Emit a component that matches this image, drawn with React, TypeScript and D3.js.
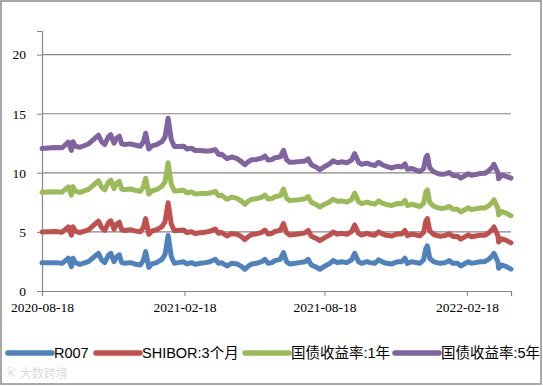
import { useEffect, useRef } from "react";
import * as d3 from "d3";

// days after 2020-08-18 for each sample
const dayOffsets = [
  0, 17, 26, 34, 38, 40, 43, 49, 60, 68,
  73, 77, 81, 86, 89, 93, 97, 100, 103, 107,
  114, 120, 127, 131, 134, 138, 142, 148, 155, 159,
  163, 167, 171, 176, 183, 187, 193, 198, 204, 211,
  217, 224, 228, 232, 239, 245, 252, 258, 262, 267,
  271, 277, 284, 288, 292, 297, 301, 308, 312, 316,
  320, 327, 333, 340, 344, 348, 355, 359, 366, 372,
  376, 382, 387, 394, 400, 404, 409, 413, 420, 424,
  430, 435, 439, 445, 452, 456, 460, 465, 469, 472,
  478, 484, 488, 493, 496, 498, 501, 506, 510, 515,
  521, 526, 531, 537, 541, 547, 551, 555, 560, 566,
  572, 577, 582, 584, 589, 590, 594, 600, 606,
];

const r007 = [
  2.4, 2.4, 2.34, 2.77, 2.06, 2.77, 2.4, 2.26, 2.48, 2.92,
  3.19, 2.63, 2.4, 3.05, 3.19, 2.48, 2.92, 3.05, 2.4, 2.34,
  2.4, 2.29, 2.2, 2.6, 3.33, 2.0, 2.29, 2.4, 2.68, 3.1,
  4.7, 2.92, 2.34, 2.4, 2.48, 2.29, 2.4, 2.26, 2.34, 2.4,
  2.48, 2.68, 2.34, 2.4, 2.12, 2.34, 2.29, 2.06, 1.84, 2.12,
  2.29, 2.34, 2.48, 2.68, 2.34, 2.4, 2.57, 2.68, 3.25, 2.48,
  2.29, 2.34, 2.4, 2.48, 2.68, 2.2, 2.0, 1.84, 2.12, 2.34,
  2.57, 2.4, 2.48, 2.4, 2.63, 3.19, 2.48, 2.34, 2.48, 2.4,
  2.34, 2.63, 2.48, 2.34, 2.29, 2.4, 2.48, 2.48, 2.77, 2.34,
  2.48, 2.4, 2.34, 2.63, 3.61, 3.81, 2.77, 2.48, 2.4, 2.34,
  2.4, 2.57, 2.34, 2.34, 2.12, 2.34, 2.48, 2.34, 2.4, 2.48,
  2.48, 2.68, 2.97, 3.19, 2.48, 1.92, 2.2, 2.06, 1.85,
];

const shibor3m = [
  2.6, 2.63, 2.64, 2.66, 2.66, 2.67, 2.67, 2.68, 2.7, 2.71,
  2.72, 2.73, 2.73, 2.74, 2.75, 2.75, 2.76, 2.77, 2.77, 2.78,
  2.79, 2.8, 2.8, 2.79, 2.79, 2.79, 2.78, 2.78, 2.77, 2.76,
  2.76, 2.75, 2.75, 2.72, 2.68, 2.66, 2.62, 2.6, 2.59, 2.58,
  2.57, 2.56, 2.55, 2.55, 2.54, 2.53, 2.52, 2.51, 2.5, 2.5,
  2.49, 2.49, 2.48, 2.48, 2.48, 2.47, 2.47, 2.46, 2.46, 2.45,
  2.45, 2.45, 2.44, 2.44, 2.44, 2.43, 2.43, 2.42, 2.42, 2.41,
  2.41, 2.41, 2.4, 2.4, 2.4, 2.4, 2.4, 2.39, 2.39, 2.38,
  2.38, 2.38, 2.37, 2.37, 2.36, 2.36, 2.36, 2.35, 2.35, 2.35,
  2.34, 2.33, 2.33, 2.32, 2.32, 2.31, 2.31, 2.3, 2.3, 2.29,
  2.29, 2.28, 2.28, 2.27, 2.27, 2.26, 2.26, 2.25, 2.25, 2.24,
  2.24, 2.23, 2.23, 2.23, 2.22, 2.22, 2.22, 2.22, 2.22,
];

const bond1y = [
  3.35, 3.37, 3.38, 3.38, 3.39, 3.39, 3.39, 3.4, 3.41, 3.42,
  3.42, 3.43, 3.43, 3.44, 3.44, 3.44, 3.45, 3.45, 3.45, 3.45,
  3.44, 3.44, 3.43, 3.42, 3.42, 3.41, 3.41, 3.4, 3.4, 3.39,
  3.39, 3.38, 3.38, 3.37, 3.37, 3.36, 3.36, 3.35, 3.31, 3.27,
  3.24, 3.2, 3.17, 3.15, 3.11, 3.07, 3.03, 3.01, 3.0, 3.0,
  2.99, 2.98, 2.97, 2.96, 2.96, 2.95, 2.94, 2.93, 2.92, 2.92,
  2.91, 2.9, 2.89, 2.88, 2.87, 2.87, 2.86, 2.85, 2.83, 2.81,
  2.79, 2.77, 2.75, 2.72, 2.7, 2.69, 2.68, 2.67, 2.65, 2.65,
  2.63, 2.62, 2.61, 2.6, 2.58, 2.58, 2.57, 2.56, 2.55, 2.54,
  2.52, 2.49, 2.47, 2.45, 2.44, 2.43, 2.42, 2.4, 2.38, 2.36,
  2.33, 2.31, 2.3, 2.3, 2.3, 2.3, 2.3, 2.3, 2.3, 2.3,
  2.3, 2.3, 2.3, 2.3, 2.3, 2.3, 2.3, 2.3, 2.3,
];

const bond5y = [
  3.7, 3.74, 3.76, 3.78, 3.79, 3.8, 3.81, 3.82, 3.85, 3.85,
  3.85, 3.85, 3.84, 3.84, 3.84, 3.84, 3.83, 3.83, 3.83, 3.83,
  3.82, 3.82, 3.82, 3.81, 3.81, 3.81, 3.8, 3.8, 3.79, 3.78,
  3.77, 3.76, 3.75, 3.74, 3.72, 3.71, 3.7, 3.68, 3.64, 3.6,
  3.56, 3.52, 3.5, 3.47, 3.43, 3.4, 3.36, 3.35, 3.34, 3.34,
  3.33, 3.32, 3.31, 3.31, 3.3, 3.3, 3.3, 3.28, 3.27, 3.26,
  3.25, 3.23, 3.22, 3.2, 3.19, 3.18, 3.16, 3.15, 3.19, 3.22,
  3.24, 3.27, 3.3, 3.33, 3.35, 3.34, 3.33, 3.32, 3.3, 3.29,
  3.27, 3.26, 3.25, 3.23, 3.18, 3.16, 3.14, 3.11, 3.09, 3.07,
  3.03, 2.99, 2.97, 2.94, 2.93, 2.93, 2.92, 2.91, 2.9, 2.89,
  2.88, 2.87, 2.86, 2.85, 2.86, 2.87, 2.88, 2.89, 2.9, 2.92,
  2.94, 2.96, 2.98, 3.0, 3.02, 3.05, 3.08, 3.12, 3.18,
];

const seriesNames = ["R007", "SHIBOR:3个月", "国债收益率:1年", "国债收益率:5年"];
const seriesKeys = ["r007", "shibor3m", "bond1y", "bond5y"];
const colors = ["#4F81BD", "#C0504D", "#9BBB59", "#8064A2"];
const yTicks = [0, 5, 10, 15, 20];
const xTickLabels = ["2020-08-18", "2021-02-18", "2021-08-18", "2022-02-18"];

export default function App() {
  const svgRef = useRef<SVGSVGElement>(null);

  useEffect(() => {
    if (!svgRef.current) return;
    const width = 543;
    const height = 386;
    const left = 42;
    const right = 511;
    const top = 31;
    const bottom = 291;

    const svg = d3.select(svgRef.current);
    svg.selectAll("*").remove();

    const start = new Date(2020, 7, 18);
    const rows = dayOffsets.map((d, i) => ({
      date: d3.timeDay.offset(start, d),
      r007: r007[i],
      shibor3m: shibor3m[i],
      bond1y: bond1y[i],
      bond5y: bond5y[i],
    }));

    const x = d3
      .scaleTime()
      .domain([start, d3.timeDay.offset(start, 606)])
      .range([left, right]);
    const y = d3.scaleLinear().domain([0, 22]).range([bottom, top]);

    // outer frame
    svg
      .append("rect")
      .attr("x", 1)
      .attr("y", 1)
      .attr("width", width - 3)
      .attr("height", height - 3)
      .attr("fill", "#fff")
      .attr("stroke", "#8c8c8c")
      .attr("stroke-width", 1.5);

    // gridlines
    svg
      .append("g")
      .selectAll("line")
      .data(yTicks.filter((t) => t > 0))
      .enter()
      .append("line")
      .attr("x1", left)
      .attr("x2", right)
      .attr("y1", (d) => y(d))
      .attr("y2", (d) => y(d))
      .attr("stroke", "#868686")
      .attr("stroke-width", 1.2);

    // y axis
    const yAxis = svg
      .append("g")
      .attr("transform", `translate(${left},0)`)
      .call(d3.axisLeft(y).tickValues(yTicks).tickSize(5).tickPadding(11));
    yAxis.select(".domain").attr("stroke", "#868686").attr("stroke-width", 1.2);
    yAxis.selectAll(".tick line").attr("stroke", "#868686");
    yAxis
      .selectAll("text")
      .attr("font-family", "'Liberation Serif', 'Times New Roman', serif")
      .attr("font-size", 13.5)
      .attr("fill", "#000");

    // x axis
    const xTicks = xTickLabels.map((s) => d3.timeParse("%Y-%m-%d")(s) as Date);
    const xAxis = svg
      .append("g")
      .attr("transform", `translate(0,${bottom})`)
      .call(
        d3
          .axisBottom(x)
          .tickValues(xTicks)
          .tickFormat((d) => d3.timeFormat("%Y-%m-%d")(d as Date))
          .tickSize(5)
          .tickPadding(6),
      );
    xAxis.select(".domain").attr("stroke", "#868686").attr("stroke-width", 1.2);
    xAxis.selectAll(".tick line").attr("stroke", "#868686");
    xAxis
      .selectAll("text")
      .attr("font-family", "'Liberation Serif', 'Times New Roman', serif")
      .attr("font-size", 13.5)
      .attr("fill", "#000");

    // stacked lines
    const stacked = d3.stack<any>().keys(seriesKeys)(rows);
    const line = d3
      .line<any>()
      .x((d) => x(d.data.date))
      .y((d) => y(d[1]));

    svg
      .append("g")
      .selectAll("path")
      .data(stacked)
      .enter()
      .append("path")
      .attr("d", (s) => line(s as any))
      .attr("fill", "none")
      .attr("stroke", (_, i) => colors[i])
      .attr("stroke-width", 5)
      .attr("stroke-linejoin", "round")
      .attr("stroke-linecap", "round");

    // legend
    const legendX = [8, 96, 245, 395];
    const legend = svg
      .append("g")
      .selectAll("g")
      .data(seriesNames)
      .enter()
      .append("g")
      .attr("transform", (_, i) => `translate(${legendX[i]},353)`);
    legend
      .append("line")
      .attr("x1", 0)
      .attr("x2", 44)
      .attr("stroke", (_, i) => colors[i])
      .attr("stroke-width", 5.5)
      .attr("stroke-linecap", "round");
    legend
      .append("text")
      .attr("x", 46)
      .attr("dy", "0.36em")
      .attr("font-family", "'Liberation Sans', Arial, 'Noto Sans CJK SC', sans-serif")
      .attr("font-size", 14.5)
      .attr("fill", "#000")
      .text((d) => d);

    // faint watermark
    svg
      .append("text")
      .attr("x", 5)
      .attr("y", 378)
      .attr("font-family", "'Noto Sans CJK SC', sans-serif")
      .attr("font-size", 12)
      .attr("fill", "#000")
      .attr("opacity", 0.15)
      .text("Ⓚ 大数跨境");
  }, []);

  return (
    <svg
      ref={svgRef}
      width={543}
      height={386}
      style={{ position: "absolute", left: 0, top: 0, display: "block" }}
    />
  );
}
